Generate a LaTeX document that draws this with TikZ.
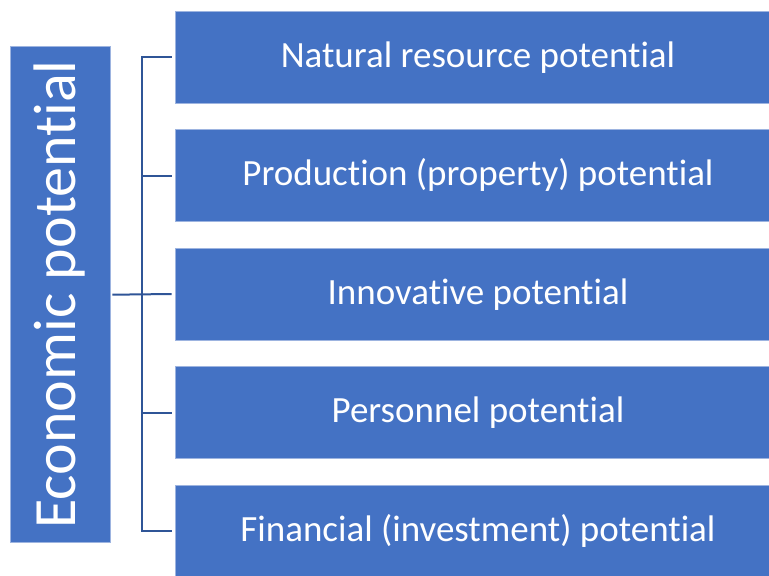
\documentclass[tikz,border=0pt]{standalone}
\usepackage{fontspec}
\setmainfont[RawFeature={-liga;-clig;-calt;-dlig}]{Carlito}
\definecolor{boxblue}{HTML}{4472C4}
\definecolor{edgeblue}{HTML}{9DB4E0}
\definecolor{linkblue}{HTML}{2F5597}
\begin{document}
\begin{tikzpicture}[x=1pt,y=-1pt,
  mainbox/.style={fill=boxblue,draw=edgeblue,line width=0.8pt,inner sep=0pt,text=white},
  itembox/.style={mainbox,minimum width=606pt,minimum height=92pt,font=\fontsize{37}{44}\selectfont,text depth=8pt,text height=28pt},
  link/.style={draw=linkblue,line width=2pt}]
\useasboundingbox (0,0) rectangle (769,576);
\node[mainbox,minimum width=100pt,minimum height=496pt] (ep) at (60,294.7) {};
\node[text=white,rotate=90,font=\fontsize{60}{72}\selectfont,inner sep=0pt,text height=45pt,text depth=13pt] (eplabel) at (59,294.5) {Economic potential};
\node[itembox] (b1) at (478,57) {Natural resource potential};
\node[itembox] (b2) at (478,175.5) {Production (property) potential};
\node[itembox] (b3) at (478,294) {Innovative potential};
\node[itembox] (b4) at (478,412.5) {Personnel potential};
\node[itembox] (b5) at (478,531) {Financial (investment) potential};
\coordinate (top) at (142,57);
\coordinate (bot) at (142,531);
\draw[link] ([xshift=2pt]ep.east) -- ([xshift=-3pt]b3.west);
\draw[link] ([xshift=-3pt]b1.west) -- (top) -- (bot) -- ([xshift=-3pt]b5.west);
\draw[link] (142,175.5) -- ([xshift=-3pt]b2.west);
\draw[link] (142,412.5) -- ([xshift=-3pt]b4.west);
\end{tikzpicture}
\end{document}
